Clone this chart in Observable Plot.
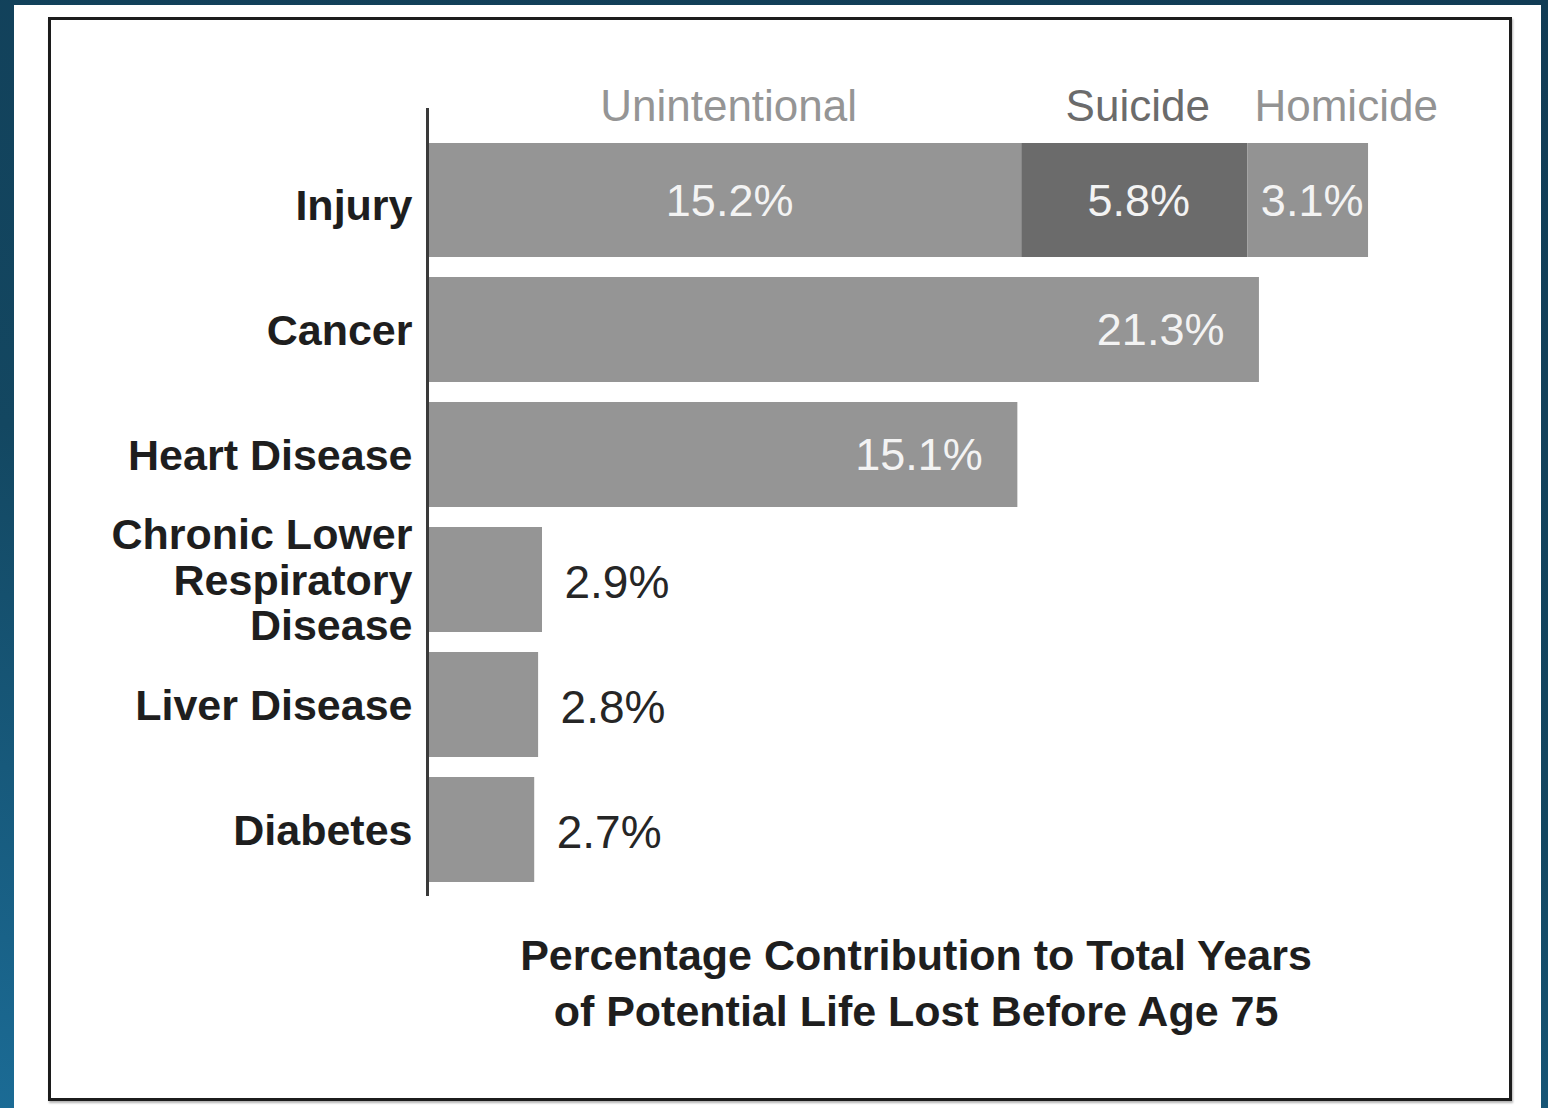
<!DOCTYPE html>
<html>
<head>
<meta charset="utf-8">
<script src="https://cdn.jsdelivr.net/npm/d3@7"></script>
<script src="https://cdn.jsdelivr.net/npm/@observablehq/plot@0.6"></script>
<style>
  html, body { margin: 0; padding: 0; }
  body {
    width: 1548px; height: 1108px; overflow: hidden; position: relative;
    background: linear-gradient(195deg, #113c55 0%, #134761 55%, #1b6b95 100%);
    font-family: "Liberation Sans", Arial, sans-serif;
  }
  #card { position: absolute; left: 14px; top: 5px; width: 1527px; height: 1103px; background: #fff; }
  #box {
    position: absolute; left: 48px; top: 17px; width: 1458px; height: 1078px;
    border: 3px solid #1c1c1c; box-shadow: 1px 2px 2px rgba(0,0,0,0.3);
  }
  #chart { position: absolute; left: 0; top: 0; }
  #caption {
    position: absolute; left: 416px; top: 927px; width: 1000px;
    text-align: center; font-weight: bold; font-size: 43px; line-height: 56px; color: #1e1e1e;
  }
</style>
</head>
<body>
<div id="card"></div>
<div id="box"></div>
<div id="chart"></div>
<div id="caption">Percentage Contribution to Total Years<br>of Potential Life Lost Before Age 75</div>
<script>
// Causes of death, top to bottom
const categories = ["Injury", "Cancer", "Heart Disease", "Chronic Lower Respiratory Disease", "Liver Disease", "Diabetes"];
const categoryLabels = ["Injury", "Cancer", "Heart Disease", "Chronic Lower\nRespiratory\nDisease", "Liver Disease", "Diabetes"];

// Injury is split by intent
const injurySeries = ["Unintentional", "Suicide", "Homicide"];
const injuryValues = [15.2, 5.8, 3.1];

// Remaining causes (single bar each)
const otherCauses = ["Cancer", "Heart Disease", "Chronic Lower Respiratory Disease", "Liver Disease", "Diabetes"];
const otherValues = [21.3, 15.1, 2.9, 2.8, 2.7];

const seriesColors = ["#959595", "#6b6b6b", "#939393"];
const totalColor = "#959595";

const injuryRows = injurySeries.map((s, i) => ({cause: "Injury", series: s, value: injuryValues[i]}));
const otherRows = otherCauses.map((c, i) => ({cause: c, series: "Total", value: otherValues[i]}));
const labelOf = new Map(categories.map((c, i) => [c, categoryLabels[i]]));
const pct = d => `${d.value.toFixed(1)}%`;

const chart = Plot.plot({
  width: 1548,
  height: 920,
  marginLeft: 429,
  marginRight: 28,
  marginTop: 108,
  marginBottom: 24,
  style: {background: "transparent", fontFamily: "'Liberation Sans', Arial, sans-serif", overflow: "visible"},
  x: {domain: [0, 28], axis: null},
  y: {domain: categories, paddingInner: 0.163, paddingOuter: 0.221, align: 0.748, label: null},
  color: {domain: [...injurySeries, "Total"], range: [...seriesColors, totalColor]},
  marks: [
    // Injury bar: stacked by intent
    Plot.barX(injuryRows, Plot.stackX({y: "cause", x: "value", fill: "series", insetTop: -9})),
    // Other causes
    Plot.barX(otherRows, {y: "cause", x: "value", fill: "series"}),
    // Series names above the injury segments
    Plot.text(injuryRows, Plot.stackX({
      y: "cause", x: "value", fill: "series",
      text: d => d.series === "Homicide" ? null : d.series,
      dx: 3, dy: -98, fontSize: 44
    })),
    Plot.text(injuryRows, Plot.stackX({
      y: "cause", x: "value", fill: "series",
      text: d => d.series === "Homicide" ? d.series : null,
      dx: 38, dy: -98, fontSize: 44
    })),
    // Values inside the injury segments
    Plot.text(injuryRows, Plot.stackX({
      y: "cause", x: "value", text: pct, fill: "#f3f3f3", dx: 4, dy: -3, fontSize: 45
    })),
    // Values inside long bars
    Plot.text(otherRows.filter(d => d.value > 10), {
      y: "cause", x: "value", text: pct, fill: "#f3f3f3",
      textAnchor: "end", dx: -35, dy: 1, fontSize: 45
    }),
    // Values beside short bars
    Plot.text(otherRows.filter(d => d.value <= 10), {
      y: "cause", x: "value", text: pct, fill: "#262626",
      textAnchor: "start", dx: 22, dy: 3, fontSize: 46
    }),
    // Category axis
    Plot.axisY({
      tickSize: 0, tickPadding: 17, fontSize: 43, fontWeight: "bold",
      fill: "#1e1e1e", lineHeight: 1.06, label: null,
      tickFormat: c => labelOf.get(c)
    }),
    Plot.ruleX([0], {stroke: "#3a3a3a", strokeWidth: 3, dx: -2})
  ]
});

document.getElementById("chart").appendChild(chart);
</script>
</body>
</html>
